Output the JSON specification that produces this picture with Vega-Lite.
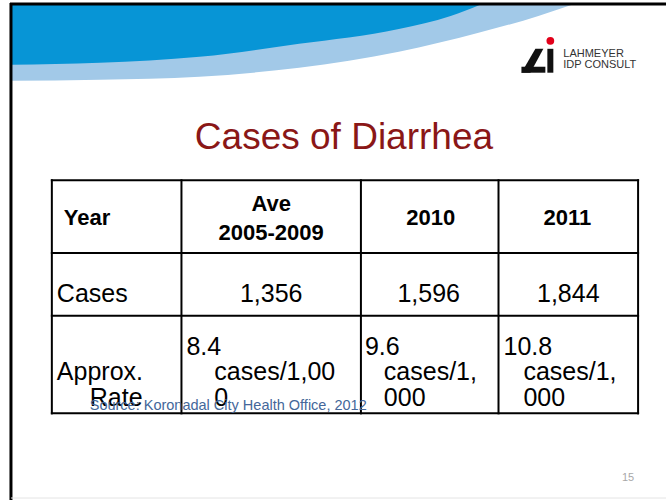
{
  "$schema": "https://vega.github.io/schema/vega-lite/v6.json",
  "width": 668,
  "height": 502,
  "autosize": {"type": "fit", "contains": "padding"},
  "padding": 0,
  "background": "white",
  "view": {"stroke": null},
  "config": {"font": "Liberation Sans"},
  "datasets": {
    "light": [{"x":11,"y":81},{"x":100,"y":80},{"x":200,"y":77},{"x":300,"y":68},{"x":400,"y":52},{"x":480,"y":33},{"x":540,"y":16},{"x":573,"y":5}],
    "dark": [{"x":11,"y":65},{"x":100,"y":63},{"x":200,"y":57},{"x":300,"y":44},{"x":400,"y":29},{"x":452,"y":16},{"x":481,"y":5}],
    "frame": [{"x":10,"x2":668,"y":4,"y2":4},{"x":11,"x2":11,"y":3,"y2":502}],
    "bottom": [{"x":11,"x2":668,"y":500,"y2":500}],
    "grid": [
      {"x":52,"x2":640,"y":181,"y2":181},
      {"x":52,"x2":640,"y":254,"y2":254},
      {"x":52,"x2":640,"y":317,"y2":317},
      {"x":52,"x2":640,"y":415,"y2":415},
      {"x":52,"x2":52,"y":181,"y2":415},
      {"x":182,"x2":182,"y":181,"y2":415},
      {"x":362,"x2":362,"y":181,"y2":415},
      {"x":500,"x2":500,"y":181,"y2":415},
      {"x":640,"x2":640,"y":181,"y2":415}
    ],
    "logoRect": [{"x":523,"x2":547,"y":67,"y2":73},{"x":549,"x2":555,"y":49,"y2":73}],
    "logoSlant": [{"y":49,"x":537,"x2":545},{"y":73,"x":523,"x2":532}],
    "logoDot": [{"x":552,"y":41}],
    "texts": [
      {"t":"Cases of Diarrhea","x":345,"y":150,"g":"title"},
      {"t":"Year","x":64,"y":226,"g":"headL"},
      {"t":"Ave","x":272,"y":212,"g":"headC"},
      {"t":"2005-2009","x":272,"y":241,"g":"headC"},
      {"t":"2010","x":432,"y":226,"g":"headC"},
      {"t":"2011","x":569,"y":226,"g":"headC"},
      {"t":"Cases","x":57,"y":303,"g":"bodyL"},
      {"t":"1,356","x":272,"y":303,"g":"bodyC"},
      {"t":"1,596","x":430,"y":303,"g":"bodyC"},
      {"t":"1,844","x":570,"y":303,"g":"bodyC"},
      {"t":"Approx.","x":57,"y":382,"g":"bodyL"},
      {"t":"Rate","x":90,"y":408,"g":"bodyL"},
      {"t":"8.4","x":187,"y":356,"g":"bodyL"},
      {"t":"cases/1,00","x":215,"y":382,"g":"bodyL"},
      {"t":"0","x":215,"y":408,"g":"bodyL"},
      {"t":"9.6","x":366,"y":356,"g":"bodyL"},
      {"t":"cases/1,","x":385,"y":382,"g":"bodyL"},
      {"t":"000","x":385,"y":408,"g":"bodyL"},
      {"t":"10.8","x":505,"y":356,"g":"bodyL"},
      {"t":"cases/1,","x":525,"y":382,"g":"bodyL"},
      {"t":"000","x":525,"y":408,"g":"bodyL"},
      {"t":"Source: Koronadal City Health Office, 2012","x":90,"y":412,"g":"source"},
      {"t":"15","x":630,"y":483,"g":"page"},
      {"t":"LAHMEYER","x":565,"y":57,"g":"logo"},
      {"t":"IDP CONSULT","x":565,"y":68,"g":"logo"}
    ]
  },
  "encoding": {
    "x": {"field": "x", "type": "quantitative", "scale": {"domain": [0, 668], "nice": false, "zero": false}, "axis": null},
    "y": {"field": "y", "type": "quantitative", "scale": {"domain": [0, 502], "nice": false, "zero": false, "reverse": true}, "axis": null}
  },
  "layer": [
    {"data": {"name": "light"}, "mark": {"type": "area", "color": "#a2c9e8", "interpolate": "monotone"}, "encoding": {"y2": {"datum": 5}}},
    {"data": {"name": "dark"}, "mark": {"type": "area", "color": "#0795d6", "interpolate": "monotone"}, "encoding": {"y2": {"datum": 5}}},
    {"data": {"name": "frame"}, "mark": {"type": "rule", "color": "#000000", "strokeWidth": 3}, "encoding": {"x2": {"field": "x2"}, "y2": {"field": "y2"}}},
    {"data": {"name": "bottom"}, "mark": {"type": "rule", "color": "#e4e4e4", "strokeWidth": 1}, "encoding": {"x2": {"field": "x2"}, "y2": {"field": "y2"}}},
    {"data": {"name": "grid"}, "mark": {"type": "rule", "color": "#000000", "strokeWidth": 2, "strokeCap": "square"}, "encoding": {"x2": {"field": "x2"}, "y2": {"field": "y2"}}},
    {"data": {"name": "logoRect"}, "mark": {"type": "rect", "color": "#111111"}, "encoding": {"x2": {"field": "x2"}, "y2": {"field": "y2"}}},
    {"data": {"name": "logoSlant"}, "mark": {"type": "area", "color": "#111111", "orient": "horizontal"}, "encoding": {"x2": {"field": "x2"}}},
    {"data": {"name": "logoDot"}, "mark": {"type": "circle", "color": "#e2001a", "opacity": 1, "size": 60}},
    {"data": {"name": "texts"}, "transform": [{"filter": "datum.g == 'title'"}], "mark": {"type": "text", "align": "center", "baseline": "alphabetic", "fontSize": 37, "color": "#8a1717"}, "encoding": {"text": {"field": "t"}}},
    {"data": {"name": "texts"}, "transform": [{"filter": "datum.g == 'headL'"}], "mark": {"type": "text", "align": "left", "baseline": "alphabetic", "fontSize": 22, "fontWeight": "bold", "color": "#000000"}, "encoding": {"text": {"field": "t"}}},
    {"data": {"name": "texts"}, "transform": [{"filter": "datum.g == 'headC'"}], "mark": {"type": "text", "align": "center", "baseline": "alphabetic", "fontSize": 22, "fontWeight": "bold", "color": "#000000"}, "encoding": {"text": {"field": "t"}}},
    {"data": {"name": "texts"}, "transform": [{"filter": "datum.g == 'bodyL'"}], "mark": {"type": "text", "align": "left", "baseline": "alphabetic", "fontSize": 25, "color": "#000000"}, "encoding": {"text": {"field": "t"}}},
    {"data": {"name": "texts"}, "transform": [{"filter": "datum.g == 'bodyC'"}], "mark": {"type": "text", "align": "center", "baseline": "alphabetic", "fontSize": 25, "color": "#000000"}, "encoding": {"text": {"field": "t"}}},
    {"data": {"name": "texts"}, "transform": [{"filter": "datum.g == 'source'"}], "mark": {"type": "text", "align": "left", "baseline": "alphabetic", "fontSize": 14.5, "color": "#44679a"}, "encoding": {"text": {"field": "t"}}},
    {"data": {"name": "texts"}, "transform": [{"filter": "datum.g == 'page'"}], "mark": {"type": "text", "align": "center", "baseline": "alphabetic", "fontSize": 11, "color": "#a8a8a8"}, "encoding": {"text": {"field": "t"}}},
    {"data": {"name": "texts"}, "transform": [{"filter": "datum.g == 'logo'"}], "mark": {"type": "text", "align": "left", "baseline": "alphabetic", "fontSize": 11, "color": "#333333"}, "encoding": {"text": {"field": "t"}}}
  ]
}
